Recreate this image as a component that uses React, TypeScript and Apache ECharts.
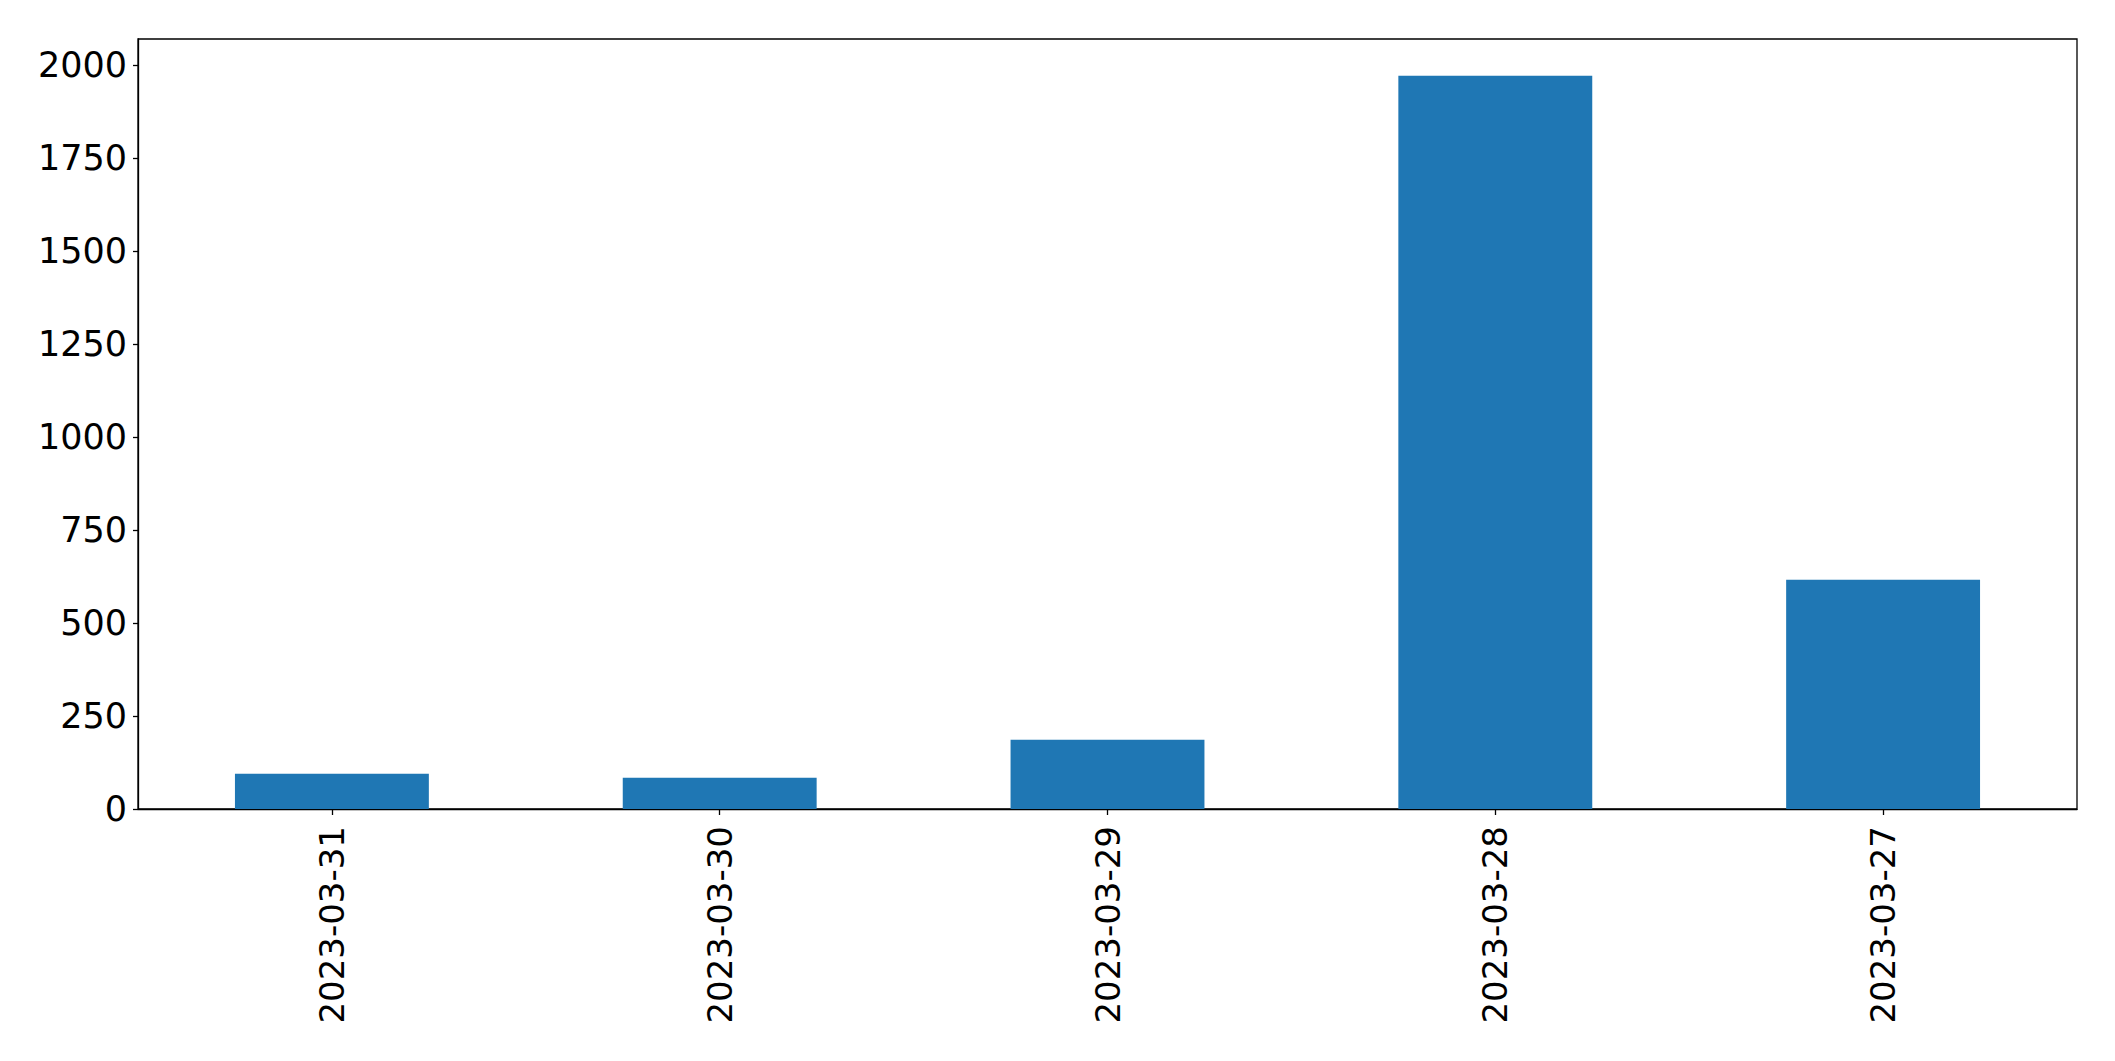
import React, { useEffect, useRef } from "react";
import * as echarts from "echarts";

const categories = ["2023-03-31", "2023-03-30", "2023-03-29", "2023-03-28", "2023-03-27"];
const values = [95, 84, 186, 1971, 616];
const yTicks = { min: 0, max: 2070, interval: 250 };

export default function App() {
  const ref = useRef<HTMLDivElement>(null);
  useEffect(() => {
    if (!ref.current) return;
    const chart = echarts.init(ref.current, undefined, { renderer: "svg" });
    const font = "DejaVu Sans";
    chart.setOption({
      animation: false,
      backgroundColor: "#ffffff",
      grid: {
        left: 138,
        top: 39,
        right: 38,
        bottom: 252,
        show: true,
        borderColor: "#000000",
        borderWidth: 1.3,
        backgroundColor: "transparent",
      },
      xAxis: {
        type: "category",
        data: categories,
        boundaryGap: true,
        axisLine: { show: true, lineStyle: { color: "#000", width: 1.3 } },
        axisTick: { show: true, alignWithLabel: true, length: 6, lineStyle: { color: "#000", width: 1.3 } },
        axisLabel: { rotate: 90, fontSize: 34, fontFamily: font, color: "#000", margin: 17 },
        splitLine: { show: false },
      },
      yAxis: {
        type: "value",
        min: yTicks.min,
        max: yTicks.max,
        interval: yTicks.interval,
        axisLine: { show: true, lineStyle: { color: "#000", width: 1.3 } },
        axisTick: { show: true, length: 5, lineStyle: { color: "#000", width: 1.3 } },
        axisLabel: {
          fontSize: 35,
          fontFamily: font,
          color: "#000",
          margin: 11,
          showMaxLabel: false,
          formatter: (v: number) => String(v),
        },
        splitLine: { show: false },
      },
      series: [
        {
          type: "bar",
          data: values,
          barWidth: "50%",
          itemStyle: { color: "#1f77b4" },
        },
      ],
    });
    return () => chart.dispose();
  }, []);
  return (
    <div
      ref={ref}
      style={{ position: "absolute", left: 0, top: 0, width: 2115, height: 1061, background: "#fff" }}
    />
  );
}
